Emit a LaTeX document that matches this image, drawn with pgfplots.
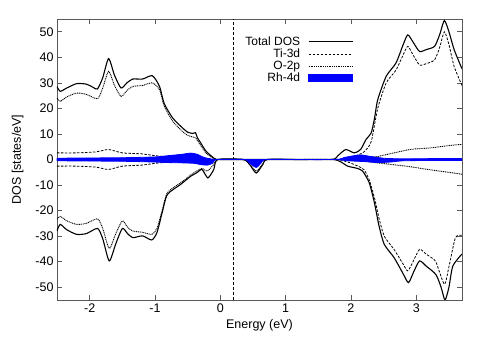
\documentclass[border=0pt]{standalone}
\usepackage{pgfplots}
\pgfplotsset{compat=1.18}
\usepackage{fontspec}
\setmainfont{Liberation Sans}
\begin{document}
\begin{tikzpicture}[x=1pt,y=1pt]
\path[use as bounding box] (-57pt,-51pt) rectangle (434pt,300pt);
\begin{axis}[
  at={(0pt,0pt)}, anchor=south west,
  scale only axis, width=405pt, height=281pt,
  xmin=-2.5, xmax=3.7, ymin=-55, ymax=55,
  xtick={-2,-1,0,1,2,3}, ytick={-50,-40,-30,-20,-10,0,10,20,30,40,50},
  tick align=inside, major tick length=5pt,
  axis line style={black!65, line width=0.6pt},
  tick style={black!65, line width=0.6pt},
  /pgf/number format/assume math mode=true,
  ticklabel style={font=\fontsize{12.5}{14}\selectfont},
  label style={font=\fontsize{12.5}{14}\selectfont},
  xlabel={Energy (eV)}, ylabel={DOS [states/eV]},
  xlabel style={yshift=0pt}, ylabel style={yshift=5pt},
  legend style={draw=none, fill=none, at={(0.732,0.945)}, anchor=north east,
    font=\fontsize{12}{13}\selectfont, row sep=-2pt, inner sep=0pt,
    /tikz/every odd column/.append style={column sep=6pt}},
  legend cell align=right, legend plot pos=right,
  legend image code/.code={\draw[#1] (0pt,0pt) -- (44pt,0pt);},
  every axis plot/.append style={smooth, tension=0.4},
]
% vertical Fermi line
\addplot[black, line width=1.4pt, dash pattern=on 3pt off 2pt, forget plot, smooth=false, sharp plot] coordinates {(0.2,-55) (0.2,55)};
% Total DOS
\addplot[black, line width=1.1pt] coordinates {(-2.5,28.5)(-2.45,26.7)(-2.35,28)(-2.2,29.7)(-2.05,29.5)(-1.95,28.3)(-1.88,27.6)(-1.8,32)(-1.71,39.5)(-1.62,33)(-1.52,28)(-1.43,30)(-1.34,31.5)(-1.19,31.5)(-1.04,32.8)(-0.93,28.6)(-0.86,22)(-0.73,16.3)(-0.58,12.4)(-0.5,10.7)(-0.42,10.2)(-0.38,10.5)(-0.35,8.5)(-0.3,6.5)(-0.22,3.3)(-0.12,1.0)(-0.05,0)(0.2,0)(1.0,0)(1.7,0)(1.8,1.5)(1.92,3.9)(2.05,2.6)(2.15,4)(2.23,7.8)(2.31,10.4)(2.36,16)(2.41,23.4)(2.54,32.6)(2.69,37.8)(2.8,45)(2.87,48.8)(2.95,46)(3.05,42.3)(3.15,43)(3.28,44.3)(3.36,49)(3.43,54.4)(3.5,50)(3.58,43)(3.7,35.5)};
\addlegendentry{Total DOS}
% Ti-3d
\addplot[black, line width=0.8pt, dash pattern=on 2.5pt off 1.5pt] coordinates {(-2.5,2.6)(-2.2,2.6)(-1.9,3)(-1.71,3.9)(-1.5,2.6)(-1.2,2.2)(-1.0,1.5)(-0.7,0.8)(-0.4,0.3)(-0.1,0)(0.8,0)(1.75,0)(1.9,0.5)(2.05,1.2)(2.2,3)(2.31,7)(2.41,20)(2.54,30)(2.69,35)(2.8,41)(2.87,44.3)(2.95,41)(3.05,37)(3.15,37.5)(3.28,39)(3.36,44)(3.43,50)(3.5,45)(3.58,36.4)(3.7,29)};
\addlegendentry{Ti-3d}
% O-2p
\addplot[black, line width=0.9pt, dash pattern=on 1pt off 0.8pt] coordinates {(-2.5,24)(-2.45,22.8)(-2.35,24.5)(-2.2,26)(-2.05,25.5)(-1.88,23.8)(-1.8,28)(-1.71,34.5)(-1.62,29)(-1.52,24.7)(-1.43,27)(-1.34,28.6)(-1.19,29)(-1.04,30)(-0.93,27.3)(-0.86,21)(-0.73,15)(-0.58,11)(-0.5,9.5)(-0.42,8.8)(-0.38,8.5)(-0.3,5.5)(-0.22,2.5)(-0.12,0.7)(-0.05,0)(0.8,0)(1.8,0)(2.0,0.2)(2.2,0.5)(2.43,1.3)(2.9,3.9)(3.2,4.5)(3.55,5.6)(3.7,5.9)};
\addlegendentry{O-2p}
% spin down
\addplot[black, line width=1.1pt, forget plot] coordinates {(-2.5,-28)(-2.45,-25.4)(-2.35,-27.5)(-2.2,-29.3)(-2.05,-29)(-1.88,-27)(-1.8,-31)(-1.7,-39.7)(-1.6,-33)(-1.5,-27)(-1.42,-29)(-1.34,-30.6)(-1.19,-29.9)(-1.05,-31.5)(-0.97,-28.6)(-0.89,-20.8)(-0.81,-13.7)(-0.61,-9.8)(-0.45,-6.5)(-0.36,-5.2)(-0.28,-3.9)(-0.19,-7.2)(-0.1,-3.9)(-0.04,0)(0.35,0)(0.45,-2)(0.55,-5.3)(0.65,-2)(0.72,0)(1.2,0)(1.72,0)(1.85,-1)(1.95,-2.6)(2.1,-3.5)(2.18,-4.6)(2.28,-9.1)(2.36,-17)(2.43,-26)(2.51,-33.2)(2.66,-38.4)(2.79,-44.3)(2.88,-48.2)(2.96,-44)(3.05,-39.7)(3.15,-41.7)(3.3,-45)(3.38,-50)(3.44,-55)(3.5,-50)(3.56,-41.7)(3.7,-37)};
\addplot[black, line width=0.8pt, dash pattern=on 2.5pt off 1.5pt, forget plot] coordinates {(-2.5,-2.6)(-2.2,-2.6)(-1.9,-3)(-1.71,-3.9)(-1.5,-2.6)(-1.2,-2.2)(-1.0,-1.5)(-0.7,-0.8)(-0.4,-0.3)(-0.1,0)(0.8,0)(1.75,0)(1.95,-1)(2.1,-2.5)(2.2,-4)(2.28,-8)(2.36,-15)(2.43,-23)(2.51,-30)(2.66,-35.2)(2.8,-41)(2.87,-43.6)(2.95,-40)(3.05,-35.2)(3.15,-37)(3.23,-38.4)(3.3,-40)(3.43,-48.8)(3.5,-42)(3.6,-30.6)(3.7,-29.7)};
\addplot[black, line width=0.9pt, dash pattern=on 1pt off 0.8pt, forget plot] coordinates {(-2.5,-23.4)(-2.45,-22.3)(-2.35,-24)(-2.2,-25.4)(-2.05,-25)(-1.88,-23.2)(-1.8,-27)(-1.7,-34.8)(-1.6,-29)(-1.5,-24)(-1.42,-26.5)(-1.34,-28)(-1.19,-28.5)(-1.05,-29.3)(-0.97,-27)(-0.89,-20)(-0.81,-13)(-0.6,-9)(-0.45,-6)(-0.36,-4.5)(-0.28,-3.5)(-0.2,-4.5)(-0.1,-2)(-0.04,0)(0.35,0)(0.45,-1.8)(0.55,-4.6)(0.65,-1.8)(0.72,0)(1.2,0)(1.8,0)(2.0,-0.3)(2.2,-0.6)(2.4,-1.3)(2.9,-2.8)(3.2,-4)(3.55,-5.2)(3.7,-5.8)};
% Rh-4d
\addplot[draw=blue, fill=blue, line width=0.8pt, legend image code/.code={\fill[blue] (0pt,-3.5pt) rectangle (44pt,3.5pt);}] coordinates {(-2.5,0.5)(-2,0.6)(-1.5,0.7)(-1.0,1.0)(-0.8,1.5)(-0.6,2.0)(-0.45,2.5)(-0.35,2.0)(-0.25,0.8)(-0.15,0.3)(-0.05,0)(0.8,0)(1.75,0)(1.9,0.8)(2.05,1.5)(2.15,1.8)(2.3,1.2)(2.5,0.5)(2.7,0.3)(3.0,0.3)(3.5,0.4)(3.7,0.4)} \closedcycle;
\addlegendentry{Rh-4d}
\addplot[draw=blue, fill=blue, line width=0.8pt, forget plot] coordinates {(-2.5,-0.5)(-1.5,-0.7)(-1,-1.0)(-0.8,-1.2)(-0.6,-1.3)(-0.4,-1.5)(-0.3,-2.0)(-0.2,-2.2)(-0.12,-1.5)(-0.05,0)(0.37,0)(0.45,-1.5)(0.55,-3.1)(0.62,-1.5)(0.7,0)(1.2,0)(1.75,0)(1.95,-0.5)(2.2,-0.8)(2.4,-1.2)(2.6,-1.0)(2.8,-0.5)(3.2,-0.4)(3.7,-0.4)} \closedcycle;
\end{axis}
\end{tikzpicture}
\end{document}
